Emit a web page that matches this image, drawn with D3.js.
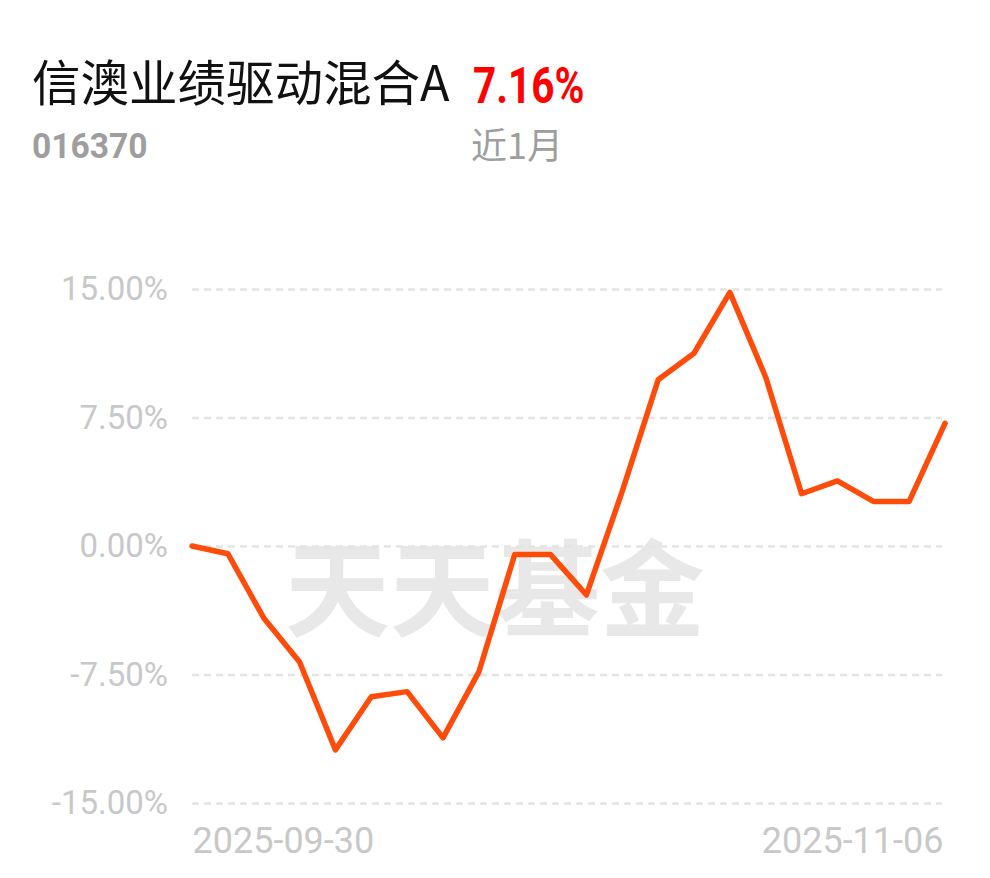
<!DOCTYPE html>
<html>
<head>
<meta charset="utf-8">
<script src="https://cdn.jsdelivr.net/npm/d3@7"></script>
<style>
  html, body { margin: 0; padding: 0; background: #fff; }
  svg { display: block; }
</style>
</head>
<body>
<svg id="chart" width="990" height="878"></svg>
<script>
const fundName = "信澳业绩驱动混合A";
const fundCode = "016370";
const periodReturn = "7.16%";
const periodLabel = "近1月";
const watermark = "天天基金";

const dates = ["2025-09-30","2025-10-09","2025-10-10","2025-10-13","2025-10-14","2025-10-15","2025-10-16","2025-10-17","2025-10-20","2025-10-21","2025-10-22","2025-10-23","2025-10-24","2025-10-27","2025-10-28","2025-10-29","2025-10-30","2025-10-31","2025-11-03","2025-11-04","2025-11-05","2025-11-06"];
const returns = [0, -0.45, -4.2, -6.77, -11.9, -8.8, -8.5, -11.2, -7.35, -0.5, -0.5, -2.85, 3.2, 9.7, 11.25, 14.8, 9.85, 3.05, 3.8, 2.6, 2.6, 7.16];
const yTicks = [15, 7.5, 0, -7.5, -15];
const xTickLabels = ["2025-09-30", "2025-11-06"];

const svg = d3.select("#chart");
const plotLeft = 192, plotRight = 945, plotTop = 289, plotBottom = 803;

const x = d3.scalePoint().domain(dates).range([plotLeft, plotRight]);
const y = d3.scaleLinear().domain([-15, 15]).range([plotBottom, plotTop]);

// Title
svg.append("text")
  .attr("x", 32).attr("y", 101)
  .attr("font-family", "'Noto Sans CJK SC', sans-serif")
  .attr("font-size", 48.5)
  .attr("fill", "#111")
  .text(fundName);

svg.append("text")
  .attr("transform", "translate(473,103) scale(0.81,1)")
  .attr("font-family", "Roboto, sans-serif")
  .attr("font-weight", "bold")
  .attr("font-size", 50)
  .attr("fill", "#ff0000")
  .text(periodReturn);

svg.append("text")
  .attr("transform", "translate(32,158) scale(0.96,1)")
  .attr("font-family", "Roboto, sans-serif")
  .attr("font-weight", "bold")
  .attr("font-size", 35)
  .attr("fill", "#9e9e9e")
  .text(fundCode);

svg.append("text")
  .attr("x", 471).attr("y", 159)
  .attr("font-family", "'Noto Sans CJK SC', sans-serif")
  .attr("font-size", 36)
  .attr("fill", "#9e9e9e")
  .text(periodLabel);

// Watermark
svg.append("text")
  .attr("x", 495).attr("y", 628)
  .attr("text-anchor", "middle")
  .attr("font-family", "'Noto Sans CJK SC', sans-serif")
  .attr("font-weight", "bold")
  .attr("font-size", 105)
  .attr("fill", "#e8e8e8")
  .text(watermark);

// Grid lines
const yAxis = d3.axisLeft(y)
  .tickValues(yTicks)
  .tickSize(-(942 - plotLeft))
  .tickPadding(24)
  .tickFormat(d => d3.format(".2f")(d).replace("\u2212", "-") + "%");

const gy = svg.append("g")
  .attr("transform", `translate(${plotLeft},0)`)
  .call(yAxis);
gy.select(".domain").remove();
gy.selectAll(".tick line")
  .attr("stroke", "#e4e4e4")
  .attr("stroke-width", 2.5)
  .attr("stroke-dasharray", "7,5");
gy.selectAll(".tick text")
  .attr("font-family", "Roboto, sans-serif")
  .attr("font-size", 33)
  .attr("fill", "#c8c8c8")
  .attr("x", -24);

// X labels
const xAxis = d3.axisBottom(x)
  .tickValues(xTickLabels)
  .tickSize(0)
  .tickPadding(0);
const gx = svg.append("g")
  .attr("transform", `translate(0,${plotBottom})`)
  .call(xAxis);
gx.select(".domain").remove();
gx.selectAll(".tick text")
  .attr("font-family", "Roboto, sans-serif")
  .attr("font-size", 36)
  .attr("fill", "#c8c8c8")
  .attr("dy", 0)
  .attr("y", 50)
  .attr("text-anchor", (d, i) => i === 0 ? "start" : "end")
  .attr("dx", (d, i) => i === 0 ? 0 : -2);

// Line
const line = d3.line()
  .x((d, i) => x(dates[i]))
  .y(d => y(d));

svg.append("path")
  .datum(returns)
  .attr("d", line)
  .attr("fill", "none")
  .attr("stroke", "#ff4c0a")
  .attr("stroke-width", 5.5)
  .attr("stroke-linejoin", "round")
  .attr("stroke-linecap", "round");
</script>
</body>
</html>
